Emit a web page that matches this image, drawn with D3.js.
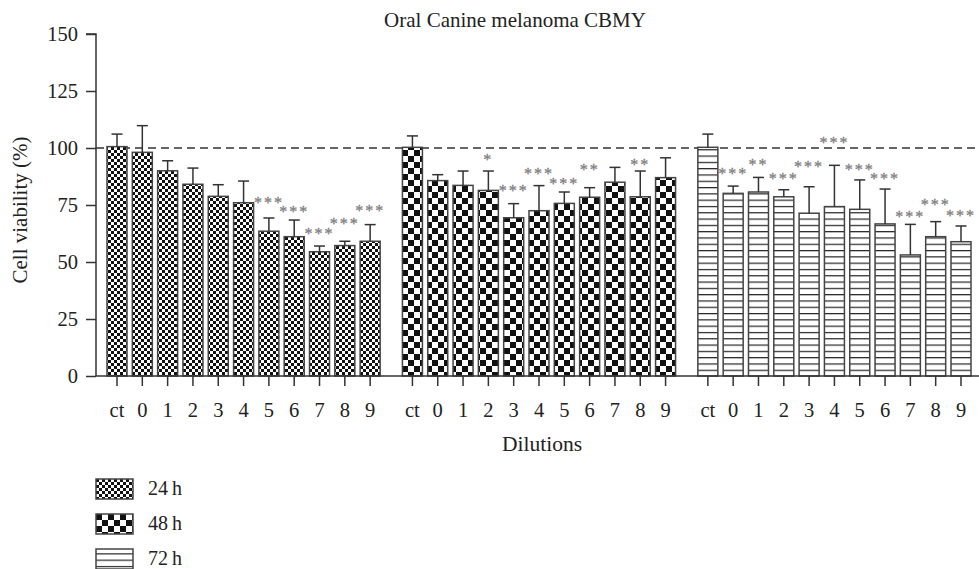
<!DOCTYPE html>
<html>
<head>
<meta charset="utf-8">
<script src="https://cdn.jsdelivr.net/npm/d3@7"></script>
<style>
  body { margin: 0; background: #fff; }
  svg text { font-family: "Liberation Serif", "DejaVu Serif", serif; fill: #222; }
</style>
</head>
<body>
<svg id="chart" width="979" height="569"></svg>
<script>
// data
const dilutions = ["ct", "0", "1", "2", "3", "4", "5", "6", "7", "8", "9"];
const timepoints = ["24h", "48h", "72h"];

const viab24 = [100.6, 98.1, 90.0, 84.1, 78.8, 76.0, 63.5, 61.1, 54.5, 57.2, 59.1];
const err24 = [5.5, 11.7, 4.4, 7.1, 5.1, 9.5, 5.8, 7.3, 2.5, 1.9, 7.3];
const sig24 = ["", "", "", "", "", "", "***", "***", "***", "***", "***"];
const sigAt24 = [null, null, null, null, null, null, 77.2, 73.2, 63.6, 68.0, 73.7];

const viab48 = [100.3, 85.7, 83.6, 81.4, 69.4, 72.5, 75.7, 78.4, 85.0, 78.6, 87.0];
const err48 = [5.0, 2.6, 6.3, 8.5, 6.2, 11.0, 5.0, 4.2, 6.5, 11.3, 8.7];
const sig48 = ["", "", "", "*", "***", "***", "***", "**", "", "**", ""];
const sigAt48 = [null, null, null, 95.9, 82.3, 89.9, 85.5, 91.5, null, 93.7, null];

const viab72 = [100.3, 80.1, 80.7, 78.6, 71.4, 74.3, 73.1, 66.7, 53.1, 61.1, 58.9];
const err72 = [5.8, 3.2, 6.4, 3.1, 11.6, 18.1, 12.9, 15.3, 13.4, 6.6, 6.9];
const sig72 = ["", "***", "**", "***", "***", "***", "***", "***", "***", "***", "***"];
const sigAt72 = [null, 89.9, 93.9, 87.9, 93.0, 103.5, 91.5, 87.7, 71.1, 76.3, 71.6];

const yTicks = [0, 25, 50, 75, 100, 125, 150];

//build flat list of bars
const series = [
    { key: "24h", values: viab24, errs: err24, sig: sig24, sigAt: sigAt24 },
    { key: "48h", values: viab48, errs: err48, sig: sig48, sigAt: sigAt48 },
    { key: "72h", values: viab72, errs: err72, sig: sig72, sigAt: sigAt72 }
];
const groupGap = 0.67; // extra empty slots between groups
let bars = [];
series.forEach((s, g) => {
    s.values.forEach((v, i) => {
        bars.push({
            group: s.key, label: dilutions[i], value: v, err: s.errs[i],
            sig: s.sig[i], sigAt: s.sigAt[i],
            pos: g * (dilutions.length + groupGap) + i
        });
    });
});

const svg = d3.select("#chart");
const axisLeftX = 96, plotRight = 979;

const y = d3.scaleLinear().domain([0, 150]).range([376, 34]);
const x = d3.scaleLinear()
    .domain([0, 2 * (dilutions.length + groupGap) + dilutions.length - 1])
    .range([117, 961]);
const barW = 20;

//patterns
const defs = svg.append("defs");
let p24 = defs.append("pattern").attr("id", "pat24h")
    .attr("patternUnits", "userSpaceOnUse").attr("width", 6).attr("height", 6);
p24.append("rect").attr("width", 6).attr("height", 6).attr("fill", "#fff");
p24.append("rect").attr("width", 3).attr("height", 3).attr("fill", "#111");
p24.append("rect").attr("x", 3).attr("y", 3).attr("width", 3).attr("height", 3).attr("fill", "#111");

let p48 = defs.append("pattern").attr("id", "pat48h")
    .attr("patternUnits", "userSpaceOnUse").attr("width", 12).attr("height", 12);
p48.append("rect").attr("width", 12).attr("height", 12).attr("fill", "#fff");
p48.append("rect").attr("width", 6).attr("height", 6).attr("fill", "#111");
p48.append("rect").attr("x", 6).attr("y", 6).attr("width", 6).attr("height", 6).attr("fill", "#111");

let p72 = defs.append("pattern").attr("id", "pat72h")
    .attr("patternUnits", "userSpaceOnUse").attr("width", 10).attr("height", 6.3)
    .attr("y", 376);
p72.append("rect").attr("width", 10).attr("height", 6.3).attr("fill", "#fff");
p72.append("line").attr("x1", 0).attr("x2", 10).attr("y1", 0.6).attr("y2", 0.6)
    .attr("stroke", "#222").attr("stroke-width", 1.2);

//title
svg.append("text")
    .attr("x", 515).attr("y", 27)
    .attr("text-anchor", "middle")
    .attr("font-size", 21)
    .text("Oral Canine melanoma CBMY");

//reference line at 100%
svg.append("line")
    .attr("x1", axisLeftX).attr("x2", plotRight)
    .attr("y1", y(100)).attr("y2", y(100))
    .attr("stroke", "#333").attr("stroke-width", 1.3)
    .attr("stroke-dasharray", "8,5");

//bars
const barG = svg.append("g");
barG.selectAll("rect").data(bars).enter().append("rect")
    .attr("x", d => x(d.pos) - barW / 2)
    .attr("y", d => y(d.value))
    .attr("width", barW)
    .attr("height", d => y(0) - y(d.value))
    .attr("fill", d => "url(#pat" + d.group + ")")
    .attr("stroke", "#444").attr("stroke-width", 1.5);

//error bars
const errG = svg.append("g").attr("stroke", "#333").attr("stroke-width", 1.5);
errG.selectAll("line.v").data(bars).enter().append("line")
    .attr("class", "v")
    .attr("x1", d => x(d.pos)).attr("x2", d => x(d.pos))
    .attr("y1", d => y(d.value)).attr("y2", d => y(d.value + d.err));
errG.selectAll("line.c").data(bars).enter().append("line")
    .attr("class", "c")
    .attr("x1", d => x(d.pos) - 5.5).attr("x2", d => x(d.pos) + 5.5)
    .attr("y1", d => y(d.value + d.err)).attr("y2", d => y(d.value + d.err));

//significance stars
svg.append("g").selectAll("text")
    .data(bars.filter(d => d.sig !== ""))
    .enter().append("text")
    .attr("x", d => x(d.pos))
    .attr("y", d => y(d.sigAt) + 8)
    .attr("text-anchor", "middle")
    .attr("font-size", 16)
    .attr("letter-spacing", 2)
    .style("fill", "#808080")
    .style("stroke", "#808080")
    .style("stroke-width", 0.3)
    .text(d => d.sig);

//y axis
const yAxis = svg.append("g")
    .attr("transform", `translate(${axisLeftX},0)`)
    .call(d3.axisLeft(y).tickValues(yTicks).tickSize(10).tickPadding(8));
yAxis.attr("font-family", null);
yAxis.select(".domain").attr("d", `M-10,${y(150)}H0V${y(0)}`);
yAxis.selectAll("path, line").attr("stroke", "#333").attr("stroke-width", 1.5);
yAxis.selectAll("text").attr("font-size", 20.5).style("fill", "#222");

//x axis
svg.append("line")
    .attr("x1", axisLeftX).attr("x2", plotRight)
    .attr("y1", y(0)).attr("y2", y(0))
    .attr("stroke", "#333").attr("stroke-width", 1.5);
svg.append("g").selectAll("line").data(bars).enter().append("line")
    .attr("x1", d => x(d.pos)).attr("x2", d => x(d.pos))
    .attr("y1", y(0)).attr("y2", y(0) + 10)
    .attr("stroke", "#333").attr("stroke-width", 1.5);
svg.append("g").selectAll("text").data(bars).enter().append("text")
    .attr("x", d => x(d.pos)).attr("y", 417)
    .attr("text-anchor", "middle")
    .attr("font-size", 20.5)
    .text(d => d.label);

//axis titles
svg.append("text")
    .attr("x", 542).attr("y", 451)
    .attr("text-anchor", "middle")
    .attr("font-size", 21.5)
    .text("Dilutions");

svg.append("text")
    .attr("transform", "translate(27,210) rotate(-90)")
    .attr("text-anchor", "middle")
    .attr("font-size", 21)
    .text("Cell viability (%)");

//legend
const legend = svg.append("g").selectAll("g")
    .data(timepoints).enter().append("g")
    .attr("transform", (d, i) => `translate(96,${479 + i * 35})`);
legend.append("rect")
    .attr("width", 37).attr("height", 20)
    .attr("fill", d => "url(#pat" + d + ")")
    .attr("stroke", "#444").attr("stroke-width", 1.5);
legend.append("text")
    .attr("x", 52).attr("y", 16)
    .attr("font-size", 20)
    .text(d => d.replace("h", "\u2009h"));
</script>
</body>
</html>
